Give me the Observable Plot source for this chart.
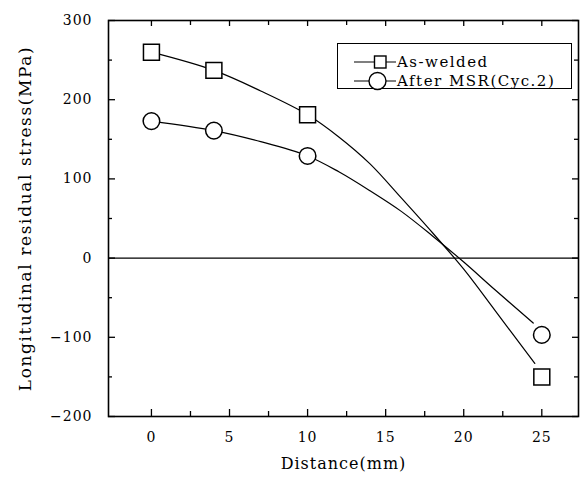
<!DOCTYPE html>
<html>
<head>
<meta charset="utf-8">
<script src="https://cdn.jsdelivr.net/npm/d3@7"></script>
<script src="https://cdn.jsdelivr.net/npm/@observablehq/plot@0.6"></script>
<style>
  html, body { margin: 0; padding: 0; background: #fff; }
  #wrap { position: relative; width: 581px; height: 480px; }
  #legend { position: absolute; left: 337px; top: 43px; width: 235px; height: 46px;
    border: 1.5px solid #000; box-sizing: border-box; background: #fff;
    font-family: "DejaVu Serif", serif; font-size: 15px; letter-spacing: 1.5px; color: #000; }
  .row { position: absolute; left: 0; height: 20px; display: flex; align-items: center; }
  .row svg { display: block; }
  .row span { white-space: nowrap; }
</style>
</head>
<body>
<div id="wrap"></div>
<script>
// Measured points
const distance = [0, 4, 10, 25];
const asWelded = [260, 237, 181, -150];
const afterMSR = [173, 161, 129, -97];

// Fitted curves
const asWeldedCurveX = [0, 4, 7, 10, 12, 14, 16, 18, 20, 22, 24.55];
const asWeldedCurveY = [260, 237, 211, 181, 153, 119, 76, 32, -14, -66, -133];
const afterMSRCurveX = [0, 4, 7, 10, 12, 14, 16, 18, 20, 22, 24.45];
const afterMSRCurveY = [173, 161, 147, 129, 109, 85, 59, 28, -5, -40, -82];

// Axis ticks
const xLabels = [0, 5, 10, 15, 20, 25];
const xMinor = [2.5, 7.5, 12.5, 17.5, 22.5];
const yLabels = [-200, -100, 0, 100, 200, 300];
const yMinor = [-150, -50, 50, 150, 250];

const seriesNames = ["As-welded", "After MSR(Cyc.2)"];
const xTitle = "Distance(mm)";
const yTitle = "Longitudinal residual stress(MPa)";

const ptsA = distance.map((d, i) => ({x: d, y: asWelded[i]}));
const ptsB = distance.map((d, i) => ({x: d, y: afterMSR[i]}));
const curveA = asWeldedCurveX.map((d, i) => ({x: d, y: asWeldedCurveY[i]}));
const curveB = afterMSRCurveX.map((d, i) => ({x: d, y: afterMSRCurveY[i]}));

const W = 581, H = 480;
const mL = 108, mR = 3, mT = 20, mB = 64;
const fw = W - mL - mR, fh = H - mT - mB;

const chart = Plot.plot({
  width: W, height: H,
  marginLeft: mL, marginRight: mR, marginTop: mT, marginBottom: mB,
  style: {fontFamily: "DejaVu Serif", fontSize: "14px", background: "#fff", color: "#000", overflow: "visible"},
  x: {domain: [-2.75, 27.35]},
  y: {domain: [-200, 300]},
  marks: [
    Plot.ruleY([0], {stroke: "#000", strokeWidth: 1.3}),
    Plot.line(curveA, {x: "x", y: "y", curve: "catmull-rom", stroke: "#000", strokeWidth: 1.2}),
    Plot.line(curveB, {x: "x", y: "y", curve: "catmull-rom", stroke: "#000", strokeWidth: 1.2}),
    Plot.dot(ptsA, {x: "x", y: "y", symbol: "square", r: 9, fill: "#fff", stroke: "#000", strokeWidth: 1.5}),
    Plot.dot(ptsB, {x: "x", y: "y", symbol: "circle", r: 8.3, fill: "#fff", stroke: "#000", strokeWidth: 1.5}),
    // inward ticks
    Plot.tickY(yLabels, {y: d => d, insetRight: fw - 7, stroke: "#000", strokeWidth: 1.3}),
    Plot.tickY(yMinor, {y: d => d, insetRight: fw - 4, stroke: "#000", strokeWidth: 1.3}),
    Plot.tickY(yLabels, {y: d => d, insetLeft: fw - 6, stroke: "#000", strokeWidth: 1.3}),
    Plot.tickY(yMinor, {y: d => d, insetLeft: fw - 4, stroke: "#000", strokeWidth: 1.3}),
    Plot.tickX(xLabels, {x: d => d, insetTop: fh - 7, stroke: "#000", strokeWidth: 1.3}),
    Plot.tickX(xMinor, {x: d => d, insetTop: fh - 5, stroke: "#000", strokeWidth: 1.3}),
    Plot.tickX(xLabels, {x: d => d, insetBottom: fh - 6, stroke: "#000", strokeWidth: 1.3}),
    Plot.tickX(xMinor, {x: d => d, insetBottom: fh - 5, stroke: "#000", strokeWidth: 1.3}),
    Plot.axisY(yLabels, {tickSize: 0, tickPadding: 16, fontSize: 14, label: null}),
    Plot.axisX(xLabels, {tickSize: 0, tickPadding: 16, fontSize: 14, label: null}),
    Plot.frame({stroke: "#000", strokeWidth: 1.6}),
    Plot.text([yTitle], {frameAnchor: "left", textAnchor: "middle", rotate: -90, dx: -83, fontSize: 17, text: d => d}),
    Plot.text([xTitle], {frameAnchor: "bottom", textAnchor: "middle", dy: 52, fontSize: 16, text: d => d})
  ]
});

d3.select(chart).selectAll("text").attr("letter-spacing", "1px");
d3.select(chart).selectAll("text").filter(function() { return this.textContent === yTitle; }).attr("letter-spacing", "1.6px");

const wrap = document.getElementById("wrap");
wrap.appendChild(chart);

// Legend
const legend = document.createElement("div");
legend.id = "legend";
const symbols = ["square", "circle"];
seriesNames.forEach((name, i) => {
  const row = document.createElement("div");
  row.className = "row";
  row.style.top = (i === 0 ? 8 : 27) + "px";
  const s = d3.create("svg").attr("width", 59).attr("height", 20);
  s.append("line").attr("x1", 16).attr("x2", 58).attr("y1", 10).attr("y2", 10).attr("stroke", "#000").attr("stroke-width", 1.2);
  if (symbols[i] === "square") {
    s.append("rect").attr("x", 36.5).attr("y", 4).attr("width", 11.5).attr("height", 12).attr("fill", "#fff").attr("stroke", "#000").attr("stroke-width", 1.4);
  } else {
    s.append("circle").attr("cx", 39.5).attr("cy", 10).attr("r", 8.5).attr("fill", "#fff").attr("stroke", "#000").attr("stroke-width", 1.4);
  }
  row.appendChild(s.node());
  const t = document.createElement("span");
  t.textContent = name;
  row.appendChild(t);
  legend.appendChild(row);
});
wrap.appendChild(legend);
</script>
</body>
</html>
